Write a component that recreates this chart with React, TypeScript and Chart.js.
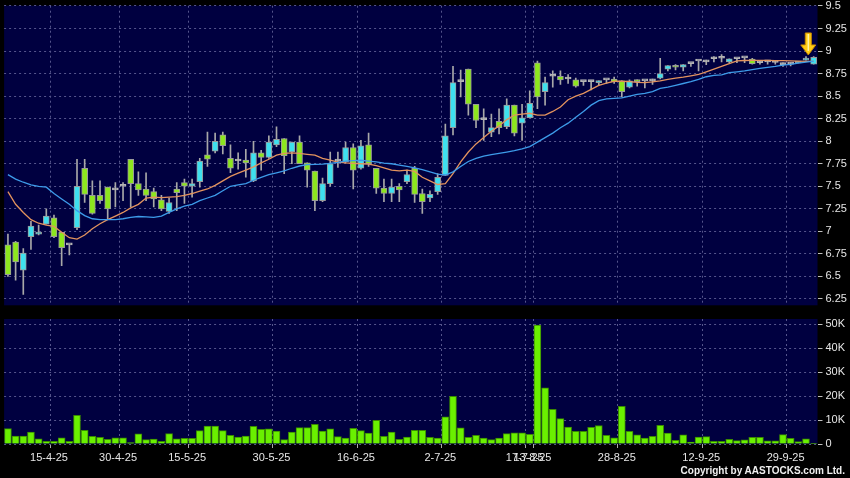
import React, { useEffect, useRef } from 'react';
import { Chart, registerables } from 'chart.js';

Chart.register(...registerables);

const DATES = [
  '7-4-25','8-4-25','9-4-25','10-4-25','11-4-25','14-4-25','15-4-25','16-4-25','17-4-25','22-4-25',
  '23-4-25','24-4-25','25-4-25','28-4-25','29-4-25','30-4-25','2-5-25','6-5-25','7-5-25','8-5-25',
  '9-5-25','12-5-25','13-5-25','14-5-25','15-5-25','16-5-25','19-5-25','20-5-25','21-5-25','22-5-25',
  '23-5-25','26-5-25','27-5-25','28-5-25','29-5-25','30-5-25','2-6-25','3-6-25','4-6-25','5-6-25',
  '6-6-25','9-6-25','10-6-25','11-6-25','12-6-25','13-6-25','16-6-25','17-6-25','18-6-25','19-6-25',
  '20-6-25','23-6-25','24-6-25','25-6-25','26-6-25','27-6-25','30-6-25','2-7-25','3-7-25','4-7-25',
  '7-7-25','8-7-25','9-7-25','10-7-25','11-7-25','14-7-25','15-7-25','16-7-25','17-7-25','13-8-25',
  '14-8-25','15-8-25','18-8-25','19-8-25','20-8-25','21-8-25','22-8-25','25-8-25','26-8-25','27-8-25',
  '28-8-25','29-8-25','1-9-25','2-9-25','3-9-25','4-9-25','5-9-25','8-9-25','9-9-25','10-9-25',
  '11-9-25','12-9-25','15-9-25','16-9-25','17-9-25','18-9-25','19-9-25','22-9-25','23-9-25','24-9-25',
  '25-9-25','26-9-25','29-9-25','30-9-25','2-10-25','3-10-25',
];

const TICK_DATES = ['15-4-25','30-4-25','15-5-25','30-5-25','16-6-25','2-7-25','17-7-25','13-8-25','28-8-25','12-9-25','29-9-25'];

const OPEN = [
  6.85,6.88,6.57,6.94,6.97,7.08,7.15,6.99,6.85,7.04,
  7.70,7.40,7.40,7.49,7.46,7.50,7.80,7.53,7.47,7.44,
  7.35,7.22,7.47,7.54,7.50,7.55,7.85,7.89,8.07,7.81,
  7.78,7.79,7.56,7.87,7.82,7.96,8.03,7.88,7.99,7.76,
  7.67,7.34,7.53,7.78,7.77,7.93,7.70,7.96,7.70,7.48,
  7.42,7.50,7.55,7.70,7.42,7.37,7.44,7.62,8.15,8.66,
  8.80,8.41,8.24,8.10,8.22,8.16,8.40,8.20,8.26,8.87,
  8.55,8.72,8.72,8.69,8.68,8.66,8.66,8.65,8.68,8.69,
  8.67,8.60,8.67,8.67,8.67,8.70,8.80,8.84,8.82,8.86,
  8.89,8.88,8.915,8.92,8.88,8.915,8.925,8.91,8.87,8.88,
  8.875,8.85,8.855,8.867,8.90,8.855,
];
const HIGH = [
  6.97,6.89,6.81,7.11,7.07,7.25,7.18,6.99,6.85,7.80,
  7.80,7.56,7.56,7.49,7.54,7.54,7.80,7.66,7.65,7.48,
  7.40,7.37,7.54,7.58,7.58,7.81,8.10,8.09,8.10,7.96,
  7.87,7.91,8.00,7.90,8.06,8.16,8.03,7.99,8.06,7.76,
  7.67,7.59,7.88,7.88,7.99,7.97,8.01,8.09,7.70,7.58,
  7.58,7.53,7.68,7.72,7.47,7.45,7.64,8.19,8.83,8.79,
  8.80,8.41,8.36,8.30,8.36,8.47,8.40,8.41,8.56,8.89,
  8.71,8.78,8.78,8.74,8.70,8.66,8.67,8.67,8.68,8.71,
  8.67,8.68,8.68,8.67,8.69,8.92,8.84,8.85,8.85,8.86,
  8.89,8.90,8.94,8.96,8.915,8.915,8.925,8.92,8.89,8.89,
  8.89,8.87,8.87,8.88,8.94,8.94,
];
const LOW = [
  6.50,6.46,6.30,6.80,6.96,7.08,6.93,6.62,6.74,7.02,
  7.32,7.19,7.31,7.14,7.27,7.34,7.27,7.40,7.34,7.27,
  7.23,7.20,7.23,7.31,7.38,7.49,7.72,7.87,7.86,7.65,
  7.69,7.60,7.55,7.68,7.81,7.94,7.64,7.75,7.75,7.49,
  7.23,7.33,7.50,7.71,7.76,7.47,7.69,7.72,7.42,7.33,
  7.33,7.33,7.53,7.32,7.20,7.33,7.41,7.62,8.07,8.49,
  8.29,8.15,8.01,8.05,8.08,8.14,8.06,8.01,8.26,8.36,
  8.40,8.60,8.63,8.64,8.60,8.62,8.57,8.62,8.64,8.64,
  8.49,8.59,8.61,8.59,8.63,8.69,8.78,8.79,8.78,8.83,
  8.78,8.85,8.88,8.88,8.87,8.87,8.87,8.855,8.855,8.855,
  8.855,8.83,8.835,8.867,8.90,8.855,
];
const CLOSE = [
  6.52,6.66,6.76,7.06,6.99,7.17,6.94,6.82,6.85,7.50,
  7.41,7.20,7.34,7.25,7.46,7.50,7.53,7.46,7.40,7.36,
  7.25,7.32,7.43,7.50,7.53,7.78,7.80,8.00,7.95,7.70,
  7.78,7.76,7.87,7.82,7.99,8.02,7.84,7.99,7.75,7.68,
  7.34,7.53,7.75,7.78,7.93,7.68,7.95,7.75,7.48,7.42,
  7.49,7.46,7.63,7.41,7.33,7.41,7.60,8.06,8.65,8.66,
  8.41,8.23,8.24,8.15,8.15,8.40,8.09,8.26,8.42,8.49,
  8.65,8.72,8.68,8.69,8.61,8.66,8.66,8.67,8.68,8.66,
  8.55,8.67,8.66,8.67,8.67,8.75,8.84,8.82,8.85,8.86,
  8.89,8.88,8.915,8.92,8.915,8.915,8.925,8.86,8.87,8.88,
  8.875,8.85,8.855,8.88,8.915,8.93,
];

const MA_SHORT = [
  7.44,7.30,7.21,7.13,7.09,7.07,7.055,6.99,6.93,6.915,
  6.96,7.03,7.085,7.13,7.17,7.21,7.26,7.30,7.37,7.38,
  7.375,7.38,7.385,7.40,7.42,7.445,7.47,7.51,7.56,7.61,
  7.645,7.68,7.715,7.76,7.80,7.845,7.865,7.87,7.865,7.855,
  7.845,7.81,7.79,7.768,7.76,7.755,7.75,7.745,7.73,7.705,
  7.68,7.67,7.68,7.665,7.60,7.56,7.52,7.53,7.64,7.77,
  7.88,7.97,8.04,8.11,8.17,8.24,8.29,8.30,8.31,8.29,
  8.29,8.33,8.38,8.46,8.50,8.53,8.575,8.62,8.645,8.665,
  8.665,8.66,8.652,8.65,8.658,8.67,8.685,8.70,8.71,8.725,
  8.74,8.77,8.80,8.83,8.86,8.89,8.895,8.896,8.896,8.896,
  8.894,8.893,8.89,8.888,8.886,8.885,
];
const MA_LONG = [
  7.63,7.58,7.545,7.515,7.50,7.49,7.42,7.36,7.30,7.23,
  7.175,7.14,7.13,7.13,7.13,7.14,7.155,7.165,7.16,7.155,
  7.17,7.21,7.25,7.28,7.30,7.34,7.37,7.40,7.45,7.50,
  7.515,7.53,7.567,7.60,7.63,7.65,7.67,7.70,7.725,7.74,
  7.743,7.745,7.755,7.765,7.778,7.785,7.789,7.78,7.77,7.758,
  7.75,7.735,7.72,7.705,7.685,7.66,7.635,7.625,7.66,7.72,
  7.775,7.81,7.835,7.85,7.865,7.88,7.895,7.915,7.94,7.99,
  8.04,8.09,8.15,8.20,8.265,8.33,8.40,8.45,8.47,8.475,
  8.48,8.50,8.52,8.53,8.55,8.585,8.60,8.62,8.64,8.66,
  8.685,8.715,8.73,8.735,8.76,8.77,8.78,8.795,8.807,8.82,
  8.83,8.845,8.853,8.865,8.878,8.888,
];

const VOLUME = [
  6400,3300,3300,5000,2200,1100,1100,2600,1100,12000,
  5700,3200,2800,1900,2600,2600,600,4200,1800,2100,
  1100,4300,2200,2400,2400,5600,7500,7500,5600,3600,
  2900,3300,7400,6100,6300,5400,1800,5000,6800,6800,
  8200,5400,6300,3100,2500,6500,5600,4500,9900,3200,
  5000,1900,2900,5700,5700,2800,2500,11300,19900,6700,
  2800,3600,2500,1800,2500,4300,4700,4700,4000,49600,
  23400,14500,10600,7100,5300,5300,7000,7700,3600,2600,
  15700,5300,3800,2500,3200,7800,4500,1500,3800,800,
  2900,3100,1100,1100,1900,1400,1700,2800,2800,1300,
  1300,3900,2400,1000,2200,300,
];

const PRICE_TICKS = [6.25,6.5,6.75,7,7.25,7.5,7.75,8,8.25,8.5,8.75,9,9.25,9.5];
const VOLUME_TICKS = [0,10000,20000,30000,40000,50000];
const ARROW_INDEX = 104;

const NAVY = '#000040';
const GRID = '#55558c';
const TEXT = '#e6e6e6';
const CYAN = '#3ee0ef';
const GREEN = '#8de61e';
const DOJI = '#b4b4b4';
const WICK = '#a8a8a8';
const EDGE = '#9a9a9a';
const FONT = '"Liberation Sans", Arial, sans-serif';

const isTick = (i: number) => i >= 0 && i < DATES.length && TICK_DATES.includes(DATES[i]);

const navyPlugin = {
  id: 'navy',
  beforeDraw(chart: any) {
    const { ctx, chartArea } = chart;
    ctx.save();
    ctx.fillStyle = NAVY;
    ctx.fillRect(chartArea.left, chartArea.top, chartArea.right - chartArea.left, chartArea.bottom - chartArea.top);
    ctx.restore();
  },
};

const arrowPlugin = {
  id: 'arrow',
  afterDatasetsDraw(chart: any) {
    const { ctx } = chart;
    const xs = chart.scales.x;
    const ys = chart.scales.y;
    const x0 = xs.getPixelForValue(ARROW_INDEX);
    const x1 = xs.getPixelForValue(ARROW_INDEX + 1);
    const cx = x0 + (x1 - x0) * 0.3;
    const tip = ys.getPixelForValue(HIGH[ARROW_INDEX]) - 1.5;
    ctx.save();
    ctx.beginPath();
    ctx.moveTo(cx - 3, tip - 22);
    ctx.lineTo(cx + 3, tip - 22);
    ctx.lineTo(cx + 3, tip - 10);
    ctx.lineTo(cx + 7.5, tip - 10);
    ctx.lineTo(cx, tip);
    ctx.lineTo(cx - 7.5, tip - 10);
    ctx.lineTo(cx - 3, tip - 10);
    ctx.closePath();
    ctx.fillStyle = '#ffcc14';
    ctx.fill();
    ctx.strokeStyle = '#c88a00';
    ctx.lineWidth = 1;
    ctx.stroke();
    ctx.beginPath();
    ctx.moveTo(cx, tip - 21);
    ctx.lineTo(cx, tip - 4);
    ctx.strokeStyle = '#fff3a0';
    ctx.lineWidth = 1.5;
    ctx.stroke();
    ctx.restore();
  },
};

const xGrid = (ticks: boolean) => ({
  offset: true,
  drawTicks: ticks,
  tickLength: 4,
  lineWidth: 1,
  color: (c: any) => (isTick(c.index) ? GRID : 'rgba(0,0,0,0)'),
  tickColor: (c: any) => (isTick(c.index) ? '#a8a8a8' : 'rgba(0,0,0,0)'),
});

export default function App() {
  const priceRef = useRef<HTMLCanvasElement>(null);
  const volRef = useRef<HTMLCanvasElement>(null);

  useEffect(() => {
    document.body.style.margin = '0';
    document.body.style.background = '#000';

    const bodyColor = OPEN.map((o, i) => (CLOSE[i] > o ? CYAN : CLOSE[i] < o ? GREEN : DOJI));
    const bodyEdge = OPEN.map((o, i) => (CLOSE[i] === o ? DOJI : EDGE));

    const price = new Chart(priceRef.current as HTMLCanvasElement, {
      type: 'bar',
      data: {
        labels: DATES,
        datasets: [
          {
            type: 'line',
            data: MA_LONG,
            borderColor: '#3d9be9',
            borderWidth: 1.3,
            pointRadius: 0,
            tension: 0,
            order: 0,
          } as any,
          {
            type: 'line',
            data: MA_SHORT,
            borderColor: '#e3935e',
            borderWidth: 1.3,
            pointRadius: 0,
            tension: 0,
            order: 1,
          } as any,
          {
            type: 'bar',
            data: OPEN.map((o, i) => [o, CLOSE[i]]),
            backgroundColor: bodyColor,
            borderColor: bodyEdge,
            borderWidth: 1,
            borderSkipped: false,
            barThickness: 6,
            minBarLength: 2,
            grouped: false,
            order: 2,
          } as any,
          {
            type: 'bar',
            data: LOW.map((l, i) => [l, HIGH[i]]),
            backgroundColor: WICK,
            borderWidth: 0,
            barThickness: 1,
            grouped: false,
            order: 3,
          } as any,
        ],
      },
      options: {
        animation: false,
        responsive: false,
        devicePixelRatio: 1,
        events: [],
        layout: { padding: { left: 4.1, top: 5.7, right: 0, bottom: 6.7 } },
        plugins: { legend: { display: false }, tooltip: { enabled: false } },
        scales: {
          x: {
            type: 'category',
            offset: true,
            ticks: { display: false },
            grid: xGrid(false) as any,
            border: { display: false, dash: [2, 3] },
            afterFit: (s: any) => { s.height = 0; s.paddingLeft = 0; s.paddingRight = 0; },
          },
          y: {
            position: 'right',
            min: 6.18,
            max: 9.503,
            afterBuildTicks: (s: any) => { s.ticks = PRICE_TICKS.map((v) => ({ value: v })); },
            afterFit: (s: any) => { s.width = 32.5; s.paddingTop = 0; s.paddingBottom = 0; },
            ticks: {
              color: TEXT,
              font: { family: FONT, size: 11 },
              padding: 3,
              callback: (v: any) => String(Number(Number(v).toFixed(2))),
            },
            grid: { color: GRID, tickColor: '#c0c0c0', tickLength: 5, drawTicks: true },
            border: { display: false, dash: [2, 3] },
          },
        },
      } as any,
      plugins: [navyPlugin, arrowPlugin],
    });

    const volume = new Chart(volRef.current as HTMLCanvasElement, {
      type: 'bar',
      data: {
        labels: DATES,
        datasets: [
          {
            data: VOLUME,
            backgroundColor: '#6af000',
            borderColor: '#3a8a00',
            borderWidth: 1,
            barThickness: 7,
          },
        ],
      },
      options: {
        animation: false,
        responsive: false,
        devicePixelRatio: 1,
        events: [],
        layout: { padding: { left: 4.1, top: 7, right: 0, bottom: 0 } },
        plugins: { legend: { display: false }, tooltip: { enabled: false } },
        scales: {
          x: {
            type: 'category',
            offset: true,
            grid: xGrid(true) as any,
            border: { display: false, dash: [2, 3] },
            ticks: {
              autoSkip: false,
              maxRotation: 0,
              minRotation: 0,
              color: TEXT,
              font: { family: FONT, size: 11 },
              padding: 3,
              labelOffset: -5,
              callback: (_v: any, i: number) => (isTick(i) ? DATES[i] : ''),
            },
            afterFit: (s: any) => { s.height = 34; s.paddingLeft = 0; s.paddingRight = 0; },
          },
          y: {
            position: 'right',
            min: 0,
            max: 52100,
            afterBuildTicks: (s: any) => { s.ticks = VOLUME_TICKS.map((v) => ({ value: v })); },
            afterFit: (s: any) => { s.width = 32.5; s.paddingTop = 0; s.paddingBottom = 0; },
            ticks: {
              color: TEXT,
              font: { family: FONT, size: 11 },
              padding: 3,
              callback: (v: any) => (Number(v) === 0 ? '0' : `${Number(v) / 1000}K`),
            },
            grid: { color: GRID, tickColor: '#c0c0c0', tickLength: 5, drawTicks: true },
            border: { display: false, dash: [2, 3] },
          },
        },
      } as any,
      plugins: [navyPlugin],
    });

    return () => {
      price.destroy();
      volume.destroy();
    };
  }, []);

  return (
    <div style={{ position: 'relative', width: 850, height: 478, background: '#000', overflow: 'hidden' }}>
      <canvas ref={priceRef} width={850} height={312} style={{ position: 'absolute', left: 0, top: 0 }} />
      <canvas ref={volRef} width={850} height={166} style={{ position: 'absolute', left: 0, top: 312 }} />
      <div
        style={{
          position: 'absolute',
          right: 5,
          top: 465,
          font: `bold 10px ${FONT}`,
          lineHeight: '12px',
          color: '#f0f0f0',
          whiteSpace: 'nowrap',
        }}
      >
        Copyright by AASTOCKS.com Ltd.
      </div>
    </div>
  );
}
